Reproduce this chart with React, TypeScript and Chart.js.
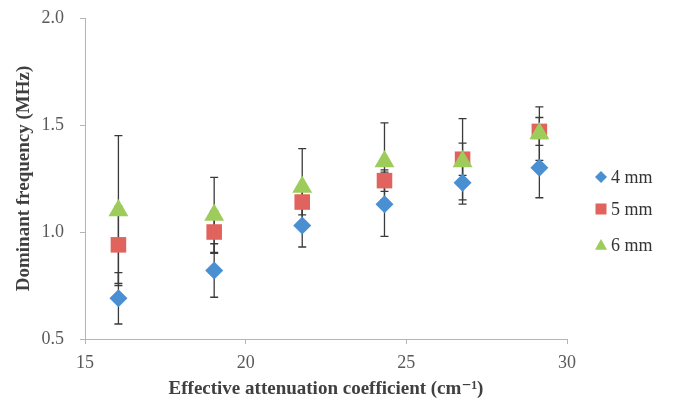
import React, { useEffect, useRef } from "react";
import { Chart, registerables } from "chart.js";

Chart.register(...registerables);

// ---- Data ----
const xValues = [16.04, 19.02, 21.76, 24.32, 26.75, 29.14];
const series4mm = [0.69, 0.82, 1.03, 1.13, 1.23, 1.3];
const err4mm = [0.12, 0.125, 0.1, 0.15, 0.08, 0.14];
const series5mm = [0.94, 1.0, 1.14, 1.24, 1.34, 1.47];
const err5mm = [0.18, 0.1, 0.06, 0.05, 0.075, 0.065];
const series6mm = [1.1, 1.08, 1.21, 1.33, 1.33, 1.46];
const err6mm = [0.35, 0.175, 0.18, 0.18, 0.2, 0.125];
const seriesLabels = ["4 mm", "5 mm", "6 mm"];
const yTickValues = [0.5, 1.0, 1.5, 2.0];
const xTickValues = [15, 20, 25, 30];
const xTitle = "Effective attenuation coefficient (cm\u207B\u00B9)";
const yTitle = "Dominant frequency (MHz)";

const colors = ["#4a8fd2", "#e0635d", "#9dcc5b"];
const pointStyles = ["rectRot", "rect", "triangle"];
const radii = [9, 11, 11.5];
const errors = [err4mm, err5mm, err6mm];

const SERIF = "'Liberation Serif', 'Times New Roman', 'DejaVu Serif', serif";

const errorBarPlugin = {
  id: "errorBars",
  beforeDatasetsDraw(chart: any) {
    const ctx = chart.ctx;
    const xs = chart.scales.x;
    const ys = chart.scales.y;
    ctx.save();
    ctx.strokeStyle = "#3a3a3a";
    ctx.lineWidth = 1.3;
    chart.data.datasets.forEach((ds: any, di: number) => {
      const errs = errors[di];
      ds.data.forEach((p: any, i: number) => {
        const e = errs[i];
        const px = xs.getPixelForValue(p.x);
        const top = ys.getPixelForValue(p.y + e);
        const bot = ys.getPixelForValue(p.y - e);
        const cap = 4;
        ctx.beginPath();
        ctx.moveTo(px, top);
        ctx.lineTo(px, bot);
        ctx.moveTo(px - cap, top);
        ctx.lineTo(px + cap, top);
        ctx.moveTo(px - cap, bot);
        ctx.lineTo(px + cap, bot);
        ctx.stroke();
      });
    });
    ctx.restore();
  },
};

const legendPlugin = {
  id: "customLegend",
  afterDraw(chart: any) {
    const ctx = chart.ctx;
    const area = chart.chartArea;
    const mx = area.right + 34;
    const tx = area.right + 44;
    const rows = [177, 209, 245];
    ctx.save();
    chart.data.datasets.forEach((ds: any, i: number) => {
      const y = rows[i];
      ctx.fillStyle = colors[i];
      ctx.beginPath();
      if (i === 0) {
        const r = 6;
        ctx.moveTo(mx, y - r);
        ctx.lineTo(mx + r, y);
        ctx.lineTo(mx, y + r);
        ctx.lineTo(mx - r, y);
      } else if (i === 1) {
        const h = 5.5;
        ctx.rect(mx - h, y - h, 2 * h, 2 * h);
      } else {
        const h = 6;
        ctx.moveTo(mx, y - h);
        ctx.lineTo(mx + h, y + h * 0.8);
        ctx.lineTo(mx - h, y + h * 0.8);
      }
      ctx.closePath();
      ctx.fill();
      ctx.fillStyle = "#333333";
      ctx.font = `18px ${SERIF}`;
      ctx.textAlign = "left";
      ctx.textBaseline = "middle";
      ctx.fillText(ds.label, tx, y + 1);
    });
    ctx.restore();
  },
};

export default function App() {
  const canvasRef = useRef<HTMLCanvasElement | null>(null);

  useEffect(() => {
    if (!canvasRef.current) return;
    const seriesValues = [series4mm, series5mm, series6mm];
    const chart = new Chart(canvasRef.current, {
      type: "scatter",
      data: {
        datasets: seriesValues.map((vals, si) => ({
          label: seriesLabels[si],
          data: xValues.map((x, i) => ({ x, y: vals[i] })),
          backgroundColor: colors[si],
          borderColor: colors[si],
          borderWidth: 0,
          pointStyle: pointStyles[si] as any,
          pointRadius: radii[si],
          pointHoverRadius: radii[si],
          order: seriesValues.length - si,
        })),
      },
      options: {
        animation: false,
        responsive: true,
        maintainAspectRatio: false,
        layout: { padding: { top: 18, right: 118, left: 0, bottom: 0 } },
        plugins: {
          legend: { display: false },
          tooltip: { enabled: false },
        },
        scales: {
          x: {
            type: "linear",
            min: 15,
            max: 30,
            afterFit: (s: any) => {
              s.height = 63;
              s.paddingLeft = 0;
              s.paddingRight = 0;
            },
            afterBuildTicks: (s: any) => {
              s.ticks = xTickValues.map((v) => ({ value: v }));
            },
            ticks: {
              font: { family: SERIF, size: 18 },
              color: "#595959",
              padding: 8,
              callback: (v: any) => String(v),
            },
            grid: {
              drawOnChartArea: false,
              drawTicks: true,
              tickLength: 5,
              color: "#b5b5b5",
            },
            border: { color: "#b5b5b5" },
            title: {
              display: true,
              text: xTitle,
              font: { family: SERIF, size: 19, weight: "bold" },
              color: "#404040",
              padding: { top: 0, bottom: 2 },
            },
          },
          y: {
            type: "linear",
            min: 0.5,
            max: 2.0,
            afterFit: (s: any) => {
              s.width = 85;
              s.paddingTop = 0;
              s.paddingBottom = 0;
            },
            afterBuildTicks: (s: any) => {
              s.ticks = yTickValues.map((v) => ({ value: v }));
            },
            ticks: {
              font: { family: SERIF, size: 18 },
              color: "#595959",
              padding: 16,
              callback: (v: any) => Number(v).toFixed(1),
            },
            grid: {
              drawOnChartArea: false,
              drawTicks: true,
              tickLength: 5,
              color: "#b5b5b5",
            },
            border: { color: "#b5b5b5" },
            title: {
              display: true,
              text: yTitle,
              font: { family: SERIF, size: 19, weight: "bold" },
              color: "#404040",
              padding: { top: 13, bottom: 0 },
            },
          },
        },
      },
      plugins: [errorBarPlugin, legendPlugin],
    });
    return () => chart.destroy();
  }, []);

  return (
    <div
      style={{
        position: "fixed",
        left: 0,
        top: 0,
        width: 685,
        height: 402,
        background: "#ffffff",
      }}
    >
      <canvas ref={canvasRef} />
    </div>
  );
}
